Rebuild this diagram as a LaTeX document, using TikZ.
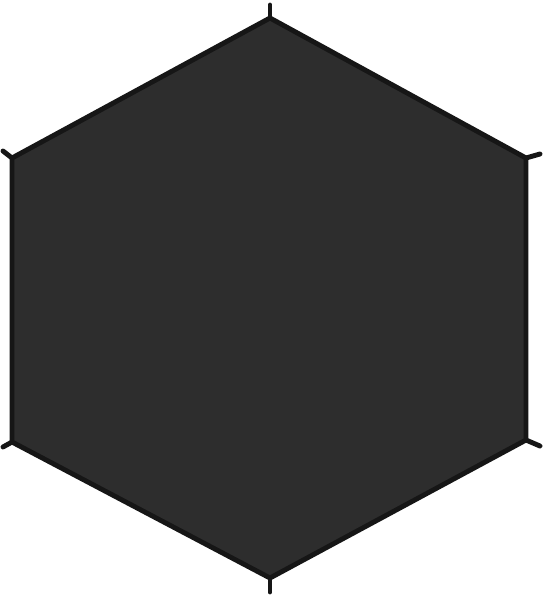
\documentclass[tikz,border=0pt]{standalone}
\usepackage{tikz}
\definecolor{sheetgray}{HTML}{2D2D2D}
\definecolor{edgegray}{HTML}{161616}
\tikzset{
    x=0.02cm, y=-0.02cm, % pixel-like units, y downwards
    sheet/.style={ % the hexagon itself
        fill=sheetgray,
        draw=edgegray,
        line width=2.8pt,
        line join=miter
    },
    peg/.style={ % small tabs at the corners
        draw=edgegray,
        line width=2.8pt,
        line cap=round
    }
}
\begin{document}
\begin{tikzpicture}
            \useasboundingbox (0,0) rectangle (546,600);
            \coordinate (top) at (270,18);
            \coordinate (ur) at (526,158);
            \coordinate (lr) at (526,440);
            \coordinate (bot) at (270,578);
            \coordinate (ll) at (12,442);
            \coordinate (ul) at (12,158);

            \coordinate (ptop) at (270,5);
            \coordinate (pur) at (540,154);
            \coordinate (plr) at (540,446);
            \coordinate (pbot) at (270,592);
            \coordinate (pll) at (3,447);
            \coordinate (pul) at (3,151);

            \draw[peg] (top) -- (ptop);
            \draw[peg] (ur) -- (pur);
            \draw[peg] (lr) -- (plr);
            \draw[peg] (bot) -- (pbot);
            \draw[peg] (ll) -- (pll);
            \draw[peg] (ul) -- (pul);

            \draw[sheet] (top) -- (ur) -- (lr) -- (bot) -- (ll) -- (ul) -- cycle;
        \end{tikzpicture}
\end{document}
